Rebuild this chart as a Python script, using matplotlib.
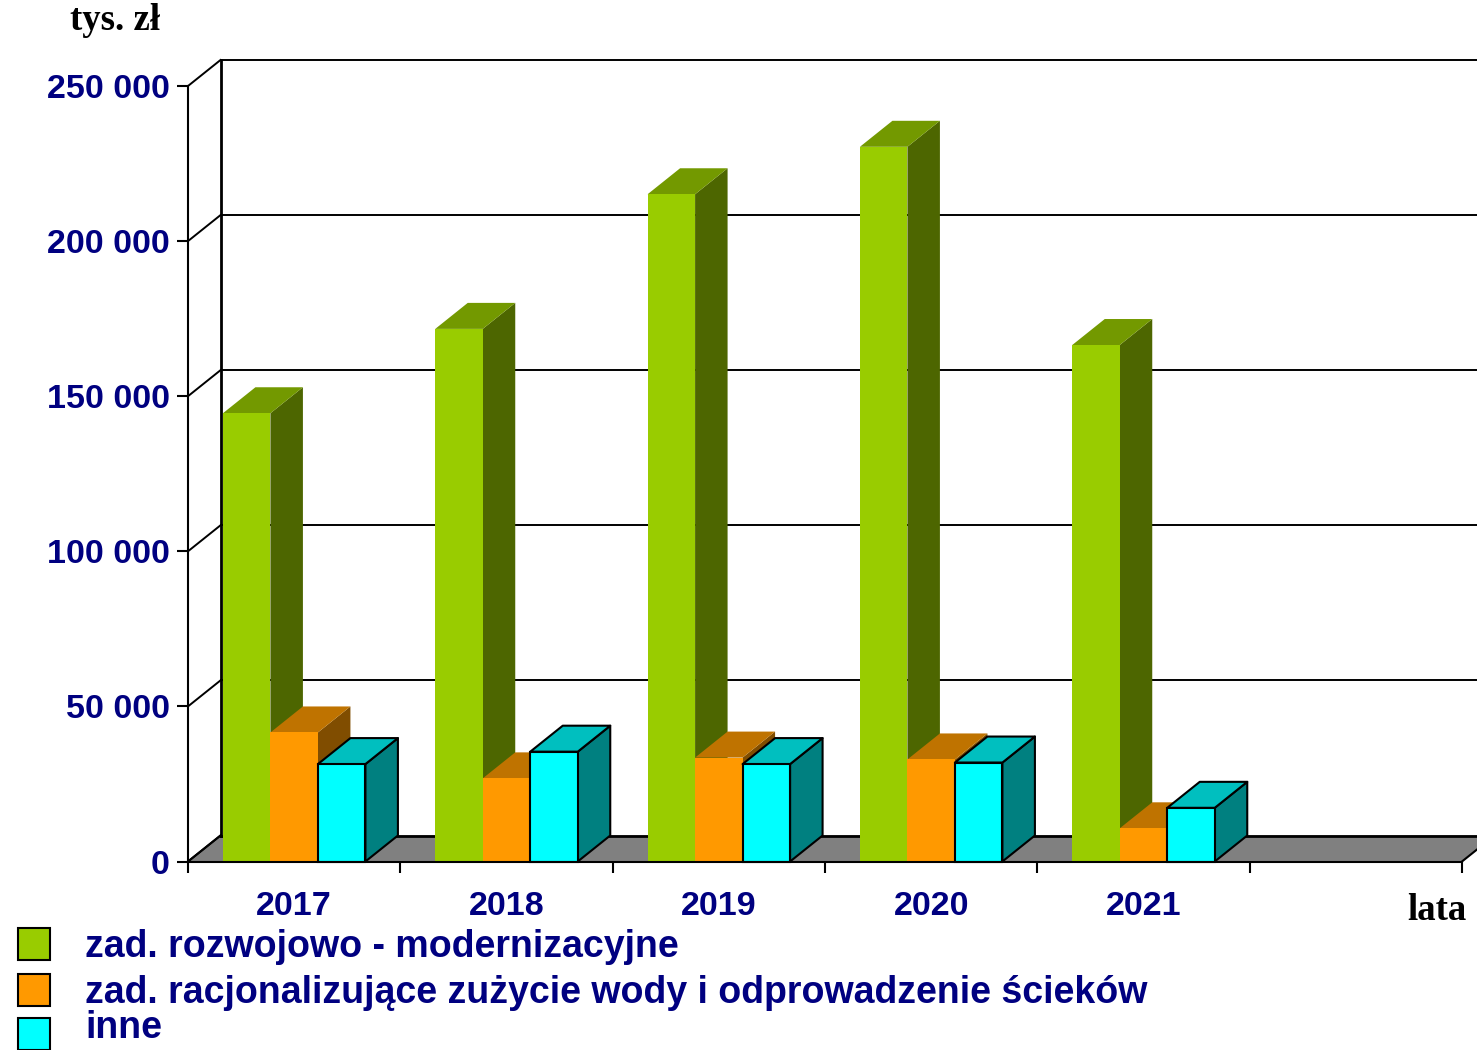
import matplotlib
matplotlib.use("Agg")
import matplotlib.pyplot as plt
from matplotlib.patches import Polygon, Rectangle
import numpy as np

# ---- data ----
years = ["2017", "2018", "2019", "2020", "2021"]
rozwojowe = [144500, 171700, 215100, 230400, 166500]
racjonalizujace = [41600, 26800, 33500, 32900, 10700]
inne = [31400, 35400, 31400, 31900, 17300]
series_names = ["zad. rozwojowo - modernizacyjne",
                "zad. racjonalizujące zużycie wody i odprowadzenie ścieków",
                "inne"]
y_ticks = [0, 50000, 100000, 150000, 200000, 250000]
y_tick_labels = ["0", "50 000", "100 000", "150 000", "200 000", "250 000"]
n_slots = 6

# ---- style ----
front_cols = ["#99CC00", "#FF9900", "#00FFFF"]
top_cols = ["#739900", "#BF7300", "#00BFBF"]
side_cols = ["#4D6600", "#804D00", "#008080"]
edge_cols = [None, None, "black"]
navy = "#000080"

W, H = 1477, 1050
fig = plt.figure(figsize=(W / 100, H / 100), dpi=100)
x0_px, x1_px = 188, 1462
y0_px, y1_px = 861.5, 86
ax = fig.add_axes([x0_px / W, (H - y0_px) / H, (x1_px - x0_px) / W, (y0_px - y1_px) / H])
ymax = 250000
ax.set_xlim(0, n_slots)
ax.set_ylim(0, ymax)

px_per_x = (x1_px - x0_px) / n_slots
px_per_y = (y0_px - y1_px) / ymax
dx = 32.5 / px_per_x
dy = 26 / px_per_y

# back wall & floor
floor = Polygon([(0, 0), (n_slots, 0), (n_slots + dx, dy), (dx, dy)],
                closed=True, facecolor="#808080", edgecolor="none", zorder=1, clip_on=False)
ax.add_patch(floor)
ax.plot([0, dx], [0, dy], color="black", lw=1.5, zorder=2, clip_on=False)
ax.plot([n_slots, n_slots + dx], [0, dy], color="black", lw=1.5, zorder=2, clip_on=False)
for v in y_ticks:
    ax.plot([dx, n_slots + dx + 1], [v + dy, v + dy], color="black", lw=1.4 if v else 2.0,
            zorder=1.5, clip_on=False)
    ax.plot([0, dx], [v, v + dy], color="black", lw=1.4, zorder=2, clip_on=False)
ax.plot([dx, dx], [dy, ymax + dy], color="black", lw=2.0, zorder=1.6, clip_on=False)

# bars
w = 47.5 / px_per_x
data = [rozwojowe, racjonalizujace, inne]
z = 3
for i in range(len(years)):
    for j, vals in enumerate(data):
        h = vals[i]
        xl = i + 0.5 - 1.5 * w + j * w
        ec = edge_cols[j]
        lw = 1.5 if ec else 0
        ecol = ec if ec else "none"
        side = Polygon([(xl + w, 0), (xl + w, h), (xl + w + dx, h + dy), (xl + w + dx, dy)],
                       closed=True, facecolor=side_cols[j], edgecolor=ecol, lw=lw,
                       zorder=z, clip_on=False, joinstyle="round")
        top = Polygon([(xl, h), (xl + w, h), (xl + w + dx, h + dy), (xl + dx, h + dy)],
                      closed=True, facecolor=top_cols[j], edgecolor=ecol, lw=lw,
                      zorder=z, clip_on=False, joinstyle="round")
        ax.add_patch(side)
        ax.add_patch(top)
        ax.bar([xl], [h], width=w, align="edge", color=front_cols[j], edgecolor=ecol,
               linewidth=lw, zorder=z + 0.1, clip_on=False)
        z += 0.2

# axes styling
for s in ["top", "right"]:
    ax.spines[s].set_visible(False)
for s in ["left", "bottom"]:
    ax.spines[s].set_linewidth(1.5)
    ax.spines[s].set_zorder(10)
ax.set_yticks(y_ticks)
ax.set_yticklabels(y_tick_labels)
ax.set_xticks(np.arange(0, n_slots + 1))
ax.set_xticklabels([])
ax.set_xticks(np.arange(len(years)) + 0.5, minor=True)
ax.set_xticklabels(years, minor=True)
ax.tick_params(axis="y", length=8, width=1.5, pad=5, labelsize=24.5, labelcolor=navy)
ax.tick_params(axis="x", which="major", length=8, width=1.5)
ax.tick_params(axis="x", which="minor", length=0, pad=21.5, labelsize=24.5, labelcolor=navy)
for lab in ax.get_yticklabels() + ax.get_xticklabels(minor=True):
    lab.set_fontfamily("Liberation Sans")
    lab.set_fontweight("bold")
ax.set_facecolor("none")

# unit labels
fig.text(70 / W, 1 - 21 / H, "tys. zł", fontsize=26.5, fontweight="bold",
         family="Liberation Serif", ha="left", va="center", color="black")
fig.text(1467 / W, 1 - 910 / H, "lata", fontsize=26.5, fontweight="bold",
         family="Liberation Serif", ha="right", va="center", color="black")

# legend
text_y = [947, 993, 1028]
box_y = [944, 990, 1034]
for k, name in enumerate(series_names):
    fig.patches.append(Rectangle((18 / W, 1 - (box_y[k] + 16) / H), 32 / W, 32 / H,
                                 transform=fig.transFigure, facecolor=front_cols[k],
                                 edgecolor="black", lw=1.5, figure=fig))
    fig.text(85 / W, 1 - text_y[k] / H, name, fontsize=27, fontweight="bold",
             family="Liberation Sans", ha="left", va="center", color=navy)

fig.savefig("out.png", dpi=100)
